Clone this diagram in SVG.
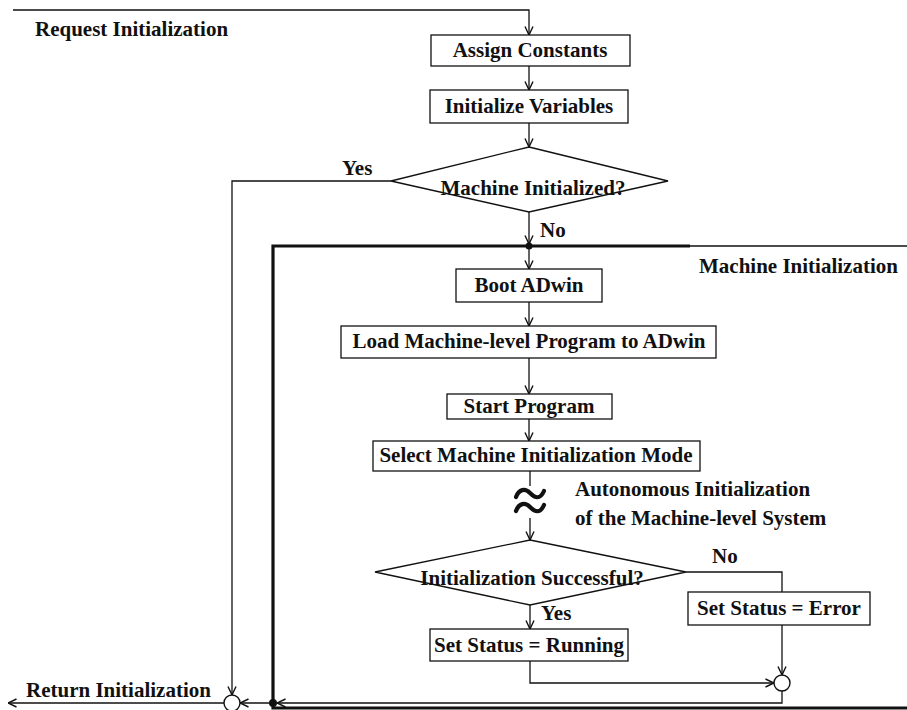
<svg xmlns="http://www.w3.org/2000/svg" width="907" height="710" viewBox="0 0 907 710">
  <defs>
    <marker id="arr" viewBox="0 0 10 10" refX="9.5" refY="5" markerWidth="10" markerHeight="10" markerUnits="userSpaceOnUse" orient="auto">
      <path d="M1,1 L9.5,5 L1,9" fill="none" stroke="#111" stroke-width="1.4"/>
    </marker>
  </defs>
  <style>
    text { font-family: "Liberation Serif", "Times New Roman", serif; font-weight: bold; font-size: 21px; fill: #111; }
    .c { text-anchor: middle; }
    .box { fill: #fff; stroke: #111; stroke-width: 1.3; }
    .ln { fill: none; stroke: #111; stroke-width: 1.3; }
    .arrow { fill: none; stroke: #111; stroke-width: 1.3; marker-end: url(#arr); }
    .frame { fill: none; stroke: #111; stroke-width: 3.2; }
    .join { fill: #fff; stroke: #111; stroke-width: 1.4; }
    .dot { fill: #111; }
    .brk { fill: none; stroke: #111; stroke-width: 4.2; stroke-linecap: round; }
  </style>
  <rect width="907" height="710" fill="#fff"/>

  <!-- boundary of the machine initialization block -->
  <g id="machine-frame">
    <path class="frame" d="M690,246 H273 V708 H907"/>
    <path class="ln" stroke-width="2" d="M690,246 H907"/>
    <text x="699" y="273">Machine Initialization</text>
  </g>

  <!-- connectors -->
  <g id="connectors">
    <path class="arrow" d="M13,10 H529 V35"/>
    <path class="arrow" d="M529,66 V90"/>
    <path class="arrow" d="M529,123 V147"/>
    <path class="arrow" d="M529,212 V244"/>
    <path class="arrow" d="M529,246 V269"/>
    <path class="arrow" d="M529,302 V326"/>
    <path class="arrow" d="M529,358 V394"/>
    <path class="arrow" d="M529,419 V441"/>
    <path class="ln" d="M530,471 V486"/>
    <path class="arrow" d="M530,518 V540"/>
    <path class="arrow" d="M530,605 V629"/>
    <path class="ln" d="M686,572 H782 V592"/>
    <path class="arrow" d="M782,625 V675"/>
    <path class="arrow" d="M530,661 V683 H774"/>
    <path class="arrow" d="M782,691 V703 H277"/>
    <path class="arrow" d="M273,703 H240"/>
    <path class="arrow" d="M224,703 H8"/>
    <path class="arrow" d="M391,181 H232 V695"/>
    <!-- break symbol on the flow line -->
    <path class="brk" d="M516,497 C519,489 525,488 530,493 S540,500 544,491"/>
    <path class="brk" d="M516,511 C519,503 525,502 530,507 S540,514 544,505"/>
    <circle class="dot" cx="529" cy="246" r="3.5"/>
    <circle class="dot" cx="273" cy="703" r="4"/>
    <text x="540" y="237">No</text>
    <text x="342" y="175">Yes</text>
    <text x="712" y="563">No</text>
    <text x="541" y="620">Yes</text>
  </g>

  <g id="request-init">
    <text x="35" y="36">Request Initialization</text>
  </g>
  <g id="assign-constants">
    <rect class="box" x="431" y="35" width="199" height="31"/>
    <text class="c" x="530" y="57">Assign Constants</text>
  </g>
  <g id="init-variables">
    <rect class="box" x="430" y="90" width="198" height="33"/>
    <text class="c" x="529" y="113">Initialize Variables</text>
  </g>
  <g id="machine-initialized">
    <polygon class="box" points="529,147 668,181 529,212 391,181"/>
    <text class="c" x="533" y="195">Machine Initialized?</text>
  </g>
  <g id="boot-adwin">
    <rect class="box" x="456" y="269" width="146" height="33"/>
    <text class="c" x="529" y="292">Boot ADwin</text>
  </g>
  <g id="load-program">
    <rect class="box" x="341" y="326" width="375" height="32"/>
    <text class="c" x="529" y="348">Load Machine-level Program to ADwin</text>
  </g>
  <g id="start-program">
    <rect class="box" x="447" y="394" width="165" height="25"/>
    <text class="c" x="529" y="413">Start Program</text>
  </g>
  <g id="select-mode">
    <rect class="box" x="373" y="441" width="327" height="30"/>
    <text class="c" x="536" y="462">Select Machine Initialization Mode</text>
  </g>
  <g id="autonomous-init">
    <text x="575" y="496">Autonomous Initialization</text>
    <text x="575" y="525">of the Machine-level System</text>
  </g>
  <g id="init-successful">
    <polygon class="box" points="530,540 686,572 530,605 375,572"/>
    <text class="c" x="532" y="585">Initialization Successful?</text>
  </g>
  <g id="status-error">
    <rect class="box" x="688" y="592" width="182" height="33"/>
    <text class="c" x="779" y="615">Set Status = Error</text>
  </g>
  <g id="status-running">
    <rect class="box" x="430" y="629" width="198" height="32"/>
    <text class="c" x="529" y="652">Set Status = Running</text>
  </g>
  <g id="merge-status">
    <circle class="join" cx="782" cy="683" r="8"/>
  </g>
  <g id="merge-return">
    <circle class="join" cx="232" cy="703" r="8"/>
    <text x="26" y="697">Return Initialization</text>
  </g>
</svg>
